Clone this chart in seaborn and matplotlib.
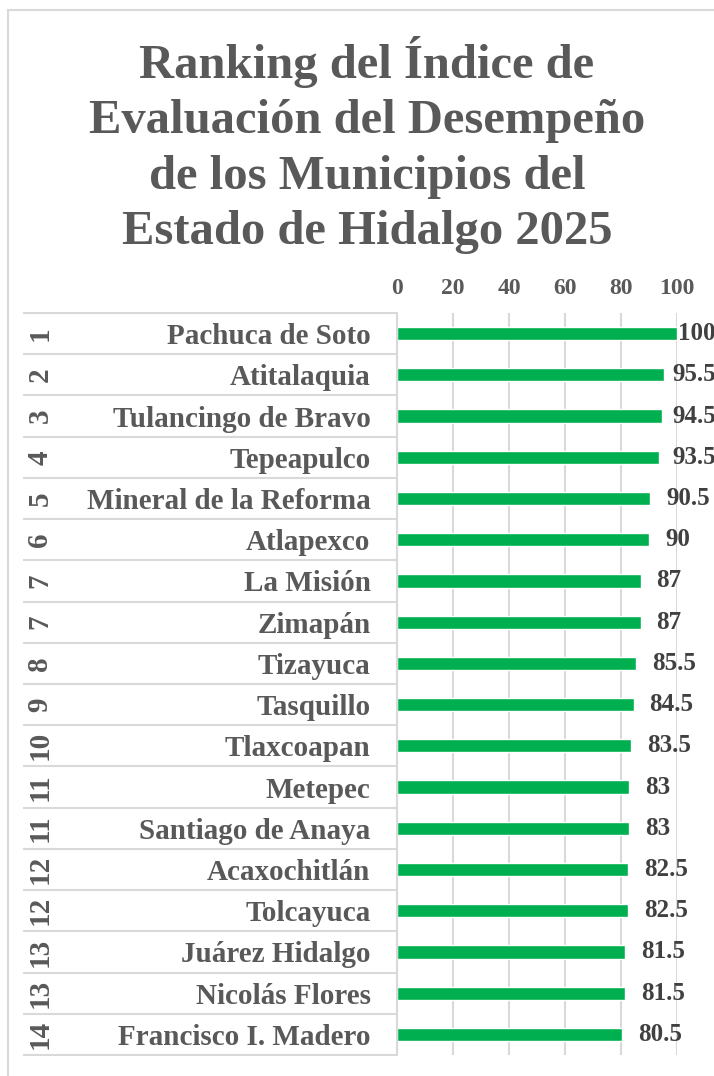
import matplotlib
matplotlib.use("Agg")
import matplotlib.pyplot as plt
import matplotlib.transforms as mtransforms
from matplotlib.patches import Rectangle
import pandas as pd
import seaborn as sns

# datos del ranking
rangos = ["1", "2", "3", "4", "5", "6", "7", "7", "8", "9", "10", "11", "11",
          "12", "12", "13", "13", "14"]
municipios = ["Pachuca de Soto", "Atitalaquia", "Tulancingo de Bravo", "Tepeapulco",
              "Mineral de la Reforma", "Atlapexco", "La Misión", "Zimapán", "Tizayuca",
              "Tasquillo", "Tlaxcoapan", "Metepec", "Santiago de Anaya", "Acaxochitlán",
              "Tolcayuca", "Juárez Hidalgo", "Nicolás Flores", "Francisco I. Madero"]
valores = [100, 95.5, 94.5, 93.5, 90.5, 90, 87, 87, 85.5, 84.5, 83.5, 83, 83,
           82.5, 82.5, 81.5, 81.5, 80.5]
ticks_x = [0, 20, 40, 60, 80, 100]
titulo = ("Ranking del Índice de\nEvaluación del Desempeño\n"
          "de los Municipios del\nEstado de Hidalgo 2025")

df = pd.DataFrame({"rango": rangos, "municipio": municipios, "valor": valores})

sns.set_theme(style="white")
plt.rcParams["font.family"] = ["Liberation Serif", "DejaVu Serif"]
plt.rcParams["font.weight"] = "bold"

GRIS = "#595959"
LINEA = "#D9D9D9"
VERDE = "#00B050"
DPI = 100

fig = plt.figure(figsize=(7.14, 10.76), dpi=DPI)
ax = fig.add_axes([397 / 714, 1 - 1055 / 1076, 280 / 714, 742 / 1076])

sns.barplot(data=df, x="valor", y="municipio", orient="h", color=VERDE,
            width=0.32, saturation=1, ax=ax)

ax.set_xlim(0, 100)
ax.set_ylim(len(df) - 0.5, -0.5)
ax.set_xticks(ticks_x)
ax.xaxis.tick_top()
ax.tick_params(axis="x", length=0, pad=10, labelsize=17, labelcolor=GRIS)
ax.tick_params(axis="y", length=0, pad=19, labelsize=21, labelcolor=GRIS)
for t in ax.get_xticklabels() + ax.get_yticklabels():
    t.set_fontweight("bold")
ax.set_xlabel("")
ax.set_ylabel("")

# cuadricula vertical
ax.grid(axis="x", color=LINEA, linewidth=1.5)
ax.set_axisbelow(True)
for lado in ["top", "right", "bottom"]:
    ax.spines[lado].set_visible(False)
ax.spines["left"].set_color(LINEA)
ax.spines["left"].set_linewidth(1.5)

# etiquetas de valores (como Excel: se recorren para no salir del area)
etiquetas = ax.bar_label(ax.containers[0], labels=[f"{v:g}" for v in valores],
                         padding=11.5, fontsize=18, fontweight="bold", color="#404040")

# tabla de categorias (rango + municipio)
trans = mtransforms.blended_transform_factory(ax.transAxes, ax.transData)
x_ini = (23 - 397) / 280
bordes = [i - 0.5 for i in range(len(df) + 1)]
ax.hlines(bordes, x_ini, 0, transform=trans, color=LINEA, linewidth=1.5, clip_on=False)
x_rango = (40 - 397) / 280
for i, r in enumerate(rangos):
    ax.text(x_rango, i, r, transform=trans, rotation=90, ha="center", va="center",
            fontsize=21, fontweight="bold", color=GRIS)

# titulo
fig.text(367 / 714, 1 - 145 / 1076, titulo, ha="center", va="center",
         fontsize=35, fontweight="bold", color=GRIS, linespacing=1.34)

# marco del grafico
fig.patches.append(Rectangle((8 / 714, -0.05), 1.2, 1.05 - 10 / 1076,
                             transform=fig.transFigure, fill=False,
                             edgecolor=LINEA, linewidth=1.5))

fig.canvas.draw()
renderer = fig.canvas.get_renderer()
limite = 716
for et in etiquetas:
    bb = et.get_window_extent(renderer)
    exceso = bb.x1 - limite
    if exceso > 0:
        dx, dy = et.xyann
        et.xyann = (dx - exceso * 72 / DPI, dy)

fig.savefig("out.png", dpi=DPI)
